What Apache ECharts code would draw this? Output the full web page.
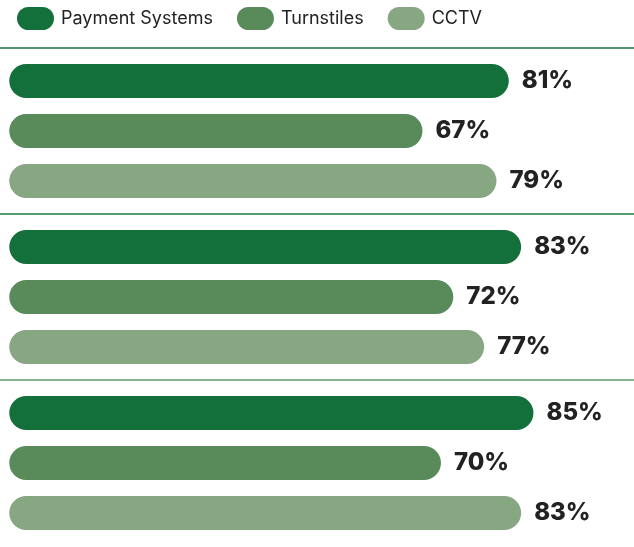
<!DOCTYPE html>
<html>
<head>
<meta charset="utf-8">
<script src="https://cdn.jsdelivr.net/npm/echarts@6/dist/echarts.min.js"></script>
<style>
  html, body { margin:0; padding:0; background:#fff; }
  #main { width:634px; height:547px; }
</style>
</head>
<body>
<div id="main"></div>
<script>
// data
var groups = ['A', 'B', 'C'];
var payment = [81, 83, 85];
var turnstiles = [67, 72, 70];
var cctv = [79, 77, 83];
var seriesNames = ['Payment Systems', 'Turnstiles', 'CCTV'];

var colors = ['#14703a', '#588a5a', '#87a682'];
var pill = 'path://M11.5,0 H25.5 A11.5,11.5 0 0 1 25.5,23 H11.5 A11.5,11.5 0 0 1 11.5,0 Z';

var myChart = echarts.init(document.getElementById('main'));

function makeBar(name, data, color) {
  return {
    name: name,
    type: 'bar',
    data: data,
    barWidth: 34,
    barGap: '47%',
    itemStyle: { color: color, borderRadius: 17 },
    label: {
      show: true,
      position: 'right',
      distance: 13,
      formatter: '{c}%',
      color: '#222',
      fontFamily: 'Inter',
      fontWeight: 800,
      fontSize: 24
    },
    emphasis: { disabled: true }
  };
}

var option = {
  animation: false,
  color: colors,
  legend: {
    data: seriesNames,
    left: 12,
    top: 2,
    itemWidth: 37,
    itemHeight: 23,
    itemGap: 24,
    icon: pill,
    textStyle: {
      color: '#222',
      fontFamily: 'Inter',
      fontSize: 18,
      padding: [0, 0, 0, 2]
    }
  },
  // grid spans full width so the separators reach both edges
  grid: {
    left: 0,
    right: 0,
    top: 48,
    height: 498
  },
  xAxis: {
    type: 'value',
    min: -1.5,
    max: 101.3,
    show: false
  },
  yAxis: {
    type: 'category',
    data: groups,
    inverse: true,
    axisLine: { show: false },
    axisTick: { show: false },
    axisLabel: { show: false },
    splitLine: {
      show: true,
      lineStyle: {
        width: 1.5,
        color: ['#17703a', '#1f7a40', '#5f9a6e', 'rgba(0,0,0,0)']
      }
    }
  },
  series: [
    makeBar(seriesNames[0], payment, colors[0]),
    makeBar(seriesNames[1], turnstiles, colors[1]),
    makeBar(seriesNames[2], cctv, colors[2])
  ]
};

myChart.setOption(option);
</script>
</body>
</html>
